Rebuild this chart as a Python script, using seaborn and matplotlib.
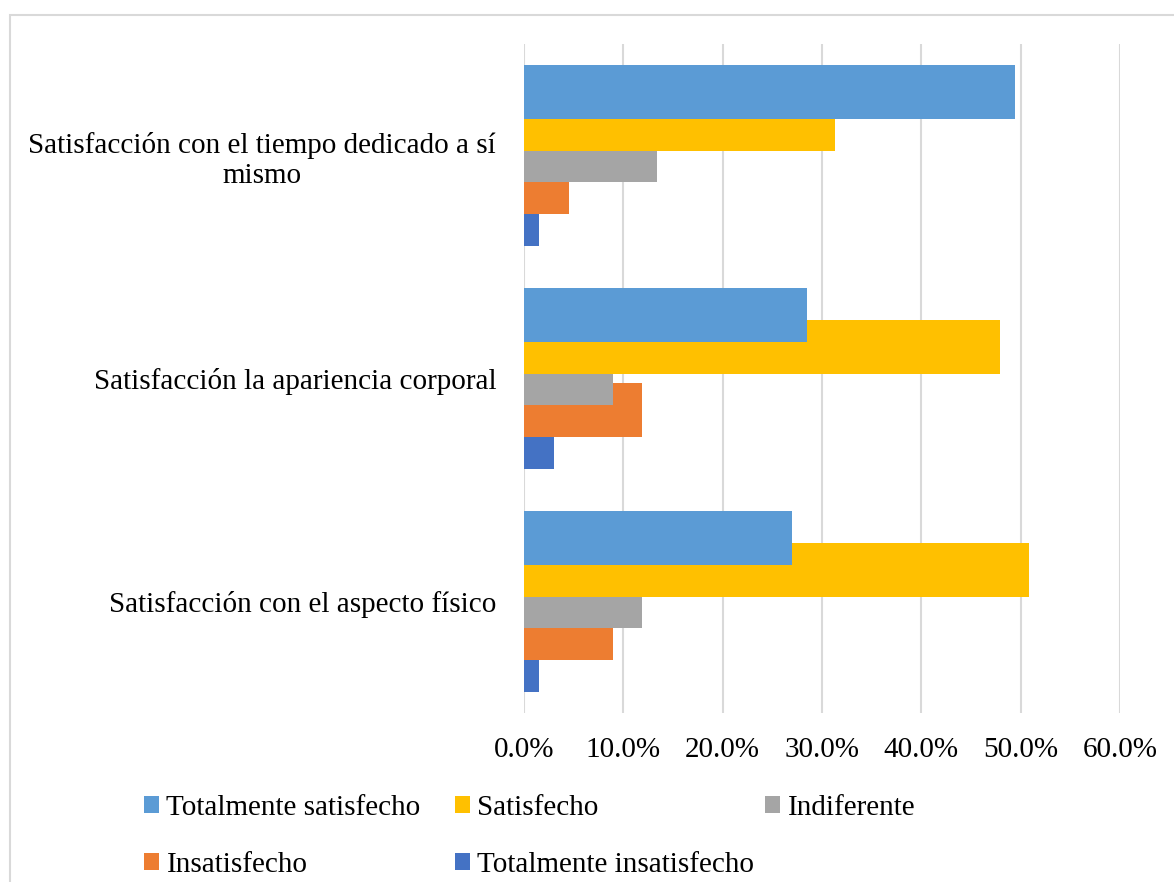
import matplotlib
matplotlib.use('Agg')
import matplotlib.pyplot as plt
from matplotlib.patches import Patch, Rectangle
from matplotlib.ticker import PercentFormatter
import seaborn as sns

# data (percent)
categories = ['Satisfacción con el tiempo dedicado a sí\nmismo',
              'Satisfacción la apariencia corporal',
              'Satisfacción con el aspecto físico']
series = ['Totalmente satisfecho', 'Satisfecho', 'Indiferente',
          'Insatisfecho', 'Totalmente insatisfecho']
totalmente_satisfecho = [49.4, 28.5, 27.0]
satisfecho = [31.3, 47.9, 50.8]
indiferente = [13.4, 9.0, 11.9]
insatisfecho = [4.5, 11.9, 9.0]
totalmente_insatisfecho = [1.5, 3.0, 1.5]
x_ticks = [0, 10, 20, 30, 40, 50, 60]

colors = ['#5B9BD5', '#FFC000', '#A5A5A5', '#ED7D31', '#4472C4']
values = [totalmente_satisfecho, satisfecho, indiferente, insatisfecho, totalmente_insatisfecho]

sns.set_theme(style='white')
plt.rcParams['font.family'] = ['Liberation Serif', 'DejaVu Serif']
plt.rcParams['text.color'] = 'black'
fs = 21

fig = plt.figure(figsize=(11.74, 8.82), dpi=100)
ax = fig.add_axes([524 / 1174, 1 - 713 / 882, (1120 - 524) / 1174, (713 - 44) / 882])

step = 0.143
bar_h = 0.242
for i, (name, vals, c) in enumerate(zip(series, values, colors)):
    pos = [k + (i - 2) * step for k in range(len(categories))]
    sns.barplot(x=vals, y=pos, orient='h', native_scale=True, width=bar_h,
                color=c, saturation=1, ax=ax, zorder=10 - i, linewidth=0)

ax.set_ylim(2.5, -0.5)
ax.set_xlim(0, 60)
ax.set_yticks(range(len(categories)))
ax.set_yticklabels(categories)
for lab in ax.get_yticklabels():
    lab.set_multialignment('center')
    lab.set_linespacing(1.2)
ax.set_xticks(x_ticks)
ax.xaxis.set_major_formatter(PercentFormatter(xmax=100, decimals=1))
ax.tick_params(axis='x', length=0, pad=17, labelsize=fs, colors='#000000')
ax.tick_params(axis='y', length=0, pad=20, labelsize=fs, colors='#000000')
ax.set_xlabel('')
ax.set_ylabel('')
ax.grid(axis='x', color='#D9D9D9', linewidth=1.5)
ax.grid(axis='y', visible=False)
ax.set_axisbelow(True)
for s in ax.spines.values():
    s.set_visible(False)

# legend laid out in three columns like the original
handles = [Patch(facecolor=c, edgecolor='none') for c in colors]
col_groups = [[0, 3], [1, 4], [2]]
col_x = [144, 455, 765]
for xs, grp in zip(col_x, col_groups):
    fig.legend([handles[j] for j in grp], [series[j] for j in grp],
               loc='upper left', bbox_to_anchor=(xs / 1174, 1 - 795 / 882),
               frameon=False, borderpad=0, borderaxespad=0,
               handlelength=0.52, handleheight=0.52, handletextpad=0.25,
               labelspacing=1.05, fontsize=fs, labelcolor='black')

fig.patches.append(Rectangle((10 / 1174, -0.1), 1.2, 1.1 - 14.5 / 882,
                             transform=fig.transFigure, fill=False,
                             edgecolor='#D9D9D9', linewidth=1.5))

fig.savefig('out.png', dpi=100, facecolor='white')
